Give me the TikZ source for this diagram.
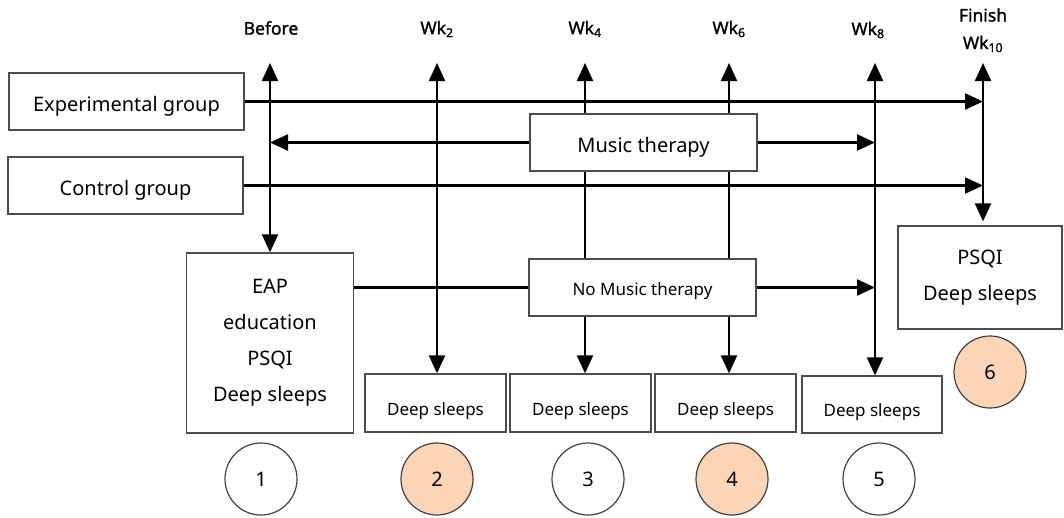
\documentclass[tikz,border=0pt]{standalone}
\usepackage{fontspec}
\setmainfont{Noto Sans}
\newfontfamily\lblfont{Noto Sans}[FakeBold=1.2]
\usepackage{tikz}
\usetikzlibrary{arrows.meta,positioning,backgrounds}
\usepackage{xcolor}
\definecolor{peach}{HTML}{FBD5B5}

\begin{document}
\begin{tikzpicture}[
  x=1pt, y=-1pt,
  box/.style={draw=black!70, line width=1.3pt, fill=white, align=center,
              font=\fontsize{20}{36}\selectfont, inner sep=0pt},
  one/.style={box, text height=25pt, text depth=5pt},
  small/.style={box, font=\fontsize{17}{22}\selectfont, text height=20pt, text depth=4pt},
  low/.style={small, text height=28pt},
  num/.style={circle, draw=black!75, line width=1.2pt, minimum size=72pt,
              inner sep=0pt, font=\fontsize{20}{24}\selectfont},
  lbl/.style={font=\lblfont\fontsize{17.5}{20}\selectfont, inner sep=1pt},
  ln/.style={line width=2.2pt},
  arr/.style={ln, -{Triangle[length=18pt, width=16pt]}},
  dbl/.style={ln, {Triangle[length=18pt, width=16pt]}-{Triangle[length=18pt, width=16pt]}}]
  \useasboundingbox (0,0) rectangle (1064,517);

  % time labels
  \node[lbl] (before) at (271,28) {Before};
  \node[lbl] (wk2) at (437,29) {Wk\textsubscript{2}};
  \node[lbl] (wk4) at (585,29) {Wk\textsubscript{4}};
  \node[lbl] (wk6) at (729,29) {Wk\textsubscript{6}};
  \node[lbl] (wk8) at (868,30) {Wk\textsubscript{8}};
  \node[lbl] (finish) at (983,15) {Finish};
  \node[lbl] (wk10) at (983,44) {Wk\textsubscript{10}};

  \coordinate (tBefore) at (270,63);
  \coordinate (tWk2) at (437,63);
  \coordinate (tWk4) at (585,63);
  \coordinate (tWk6) at (729,63);
  \coordinate (tWk8) at (875,63);
  \coordinate (tWk10) at (983,63);

  % groups and steps
  \node[one, minimum width=235pt, minimum height=57pt] (exp) at (126.5,101.5) {Experimental group};
  \node[one, minimum width=235pt, minimum height=57pt] (ctrl) at (125.5,185.5) {Control group};
  \node[one, minimum width=227pt, minimum height=57pt] (music) at (643.5,142.5) {Music therapy};
  \node[small, minimum width=227pt, minimum height=57pt] (nomusic) at (642.5,287.5) {No Music therapy};
  \node[box, minimum width=167pt, minimum height=180pt] (eap) at (270,343) {EAP\\ education\\ PSQI\\ Deep sleeps};
  \node[box, minimum width=164pt, minimum height=103pt] (psqi) at (980,277.5) {PSQI\\ Deep sleeps};
  \node[low, minimum width=141pt, minimum height=58pt] (ds2) at (435.5,403) {Deep sleeps};
  \node[low, minimum width=141pt, minimum height=58pt] (ds3) at (580.5,403) {Deep sleeps};
  \node[low, minimum width=141pt, minimum height=58pt] (ds4) at (725.5,403) {Deep sleeps};
  \node[low, minimum width=140pt, minimum height=57pt] (ds5) at (872,404.5) {Deep sleeps};

  % stage numbers
  \node[num] (c1) at (261,479) {1};
  \node[num, fill=peach] (c2) at (437,479) {2};
  \node[num] (c3) at (588,479) {3};
  \node[num, fill=peach] (c4) at (732,479) {4};
  \node[num] (c5) at (879,479) {5};
  \node[num, fill=peach] (c6) at (990,372) {6};

  \begin{scope}[on background layer]
    \draw[dbl] (tBefore) -- (tBefore |- eap.north);
    \draw[dbl] (tWk2) -- (tWk2 |- ds2.north);
    \draw[dbl] (tWk4) -- (tWk4 |- ds3.north);
    \draw[dbl] (tWk6) -- (tWk6 |- ds4.north);
    \draw[dbl] (tWk8) -- (tWk8 |- ds5.north);
    \draw[dbl] (tWk10) -- ([yshift=4pt]tWk10 |- psqi.north);
    \draw[arr] (exp.east) -- (exp.east -| tWk10);
    \draw[arr] (ctrl.east) -- (ctrl.east -| tWk10);
    \draw[arr] (music.west) -- (music.west -| tBefore);
    \draw[arr] (music.east) -- (music.east -| tWk8);
    \draw[ln] (eap.east |- nomusic.west) -- (nomusic.west);
    \draw[arr] (nomusic.east) -- (nomusic.east -| tWk8);
  \end{scope}
\end{tikzpicture}
\end{document}
